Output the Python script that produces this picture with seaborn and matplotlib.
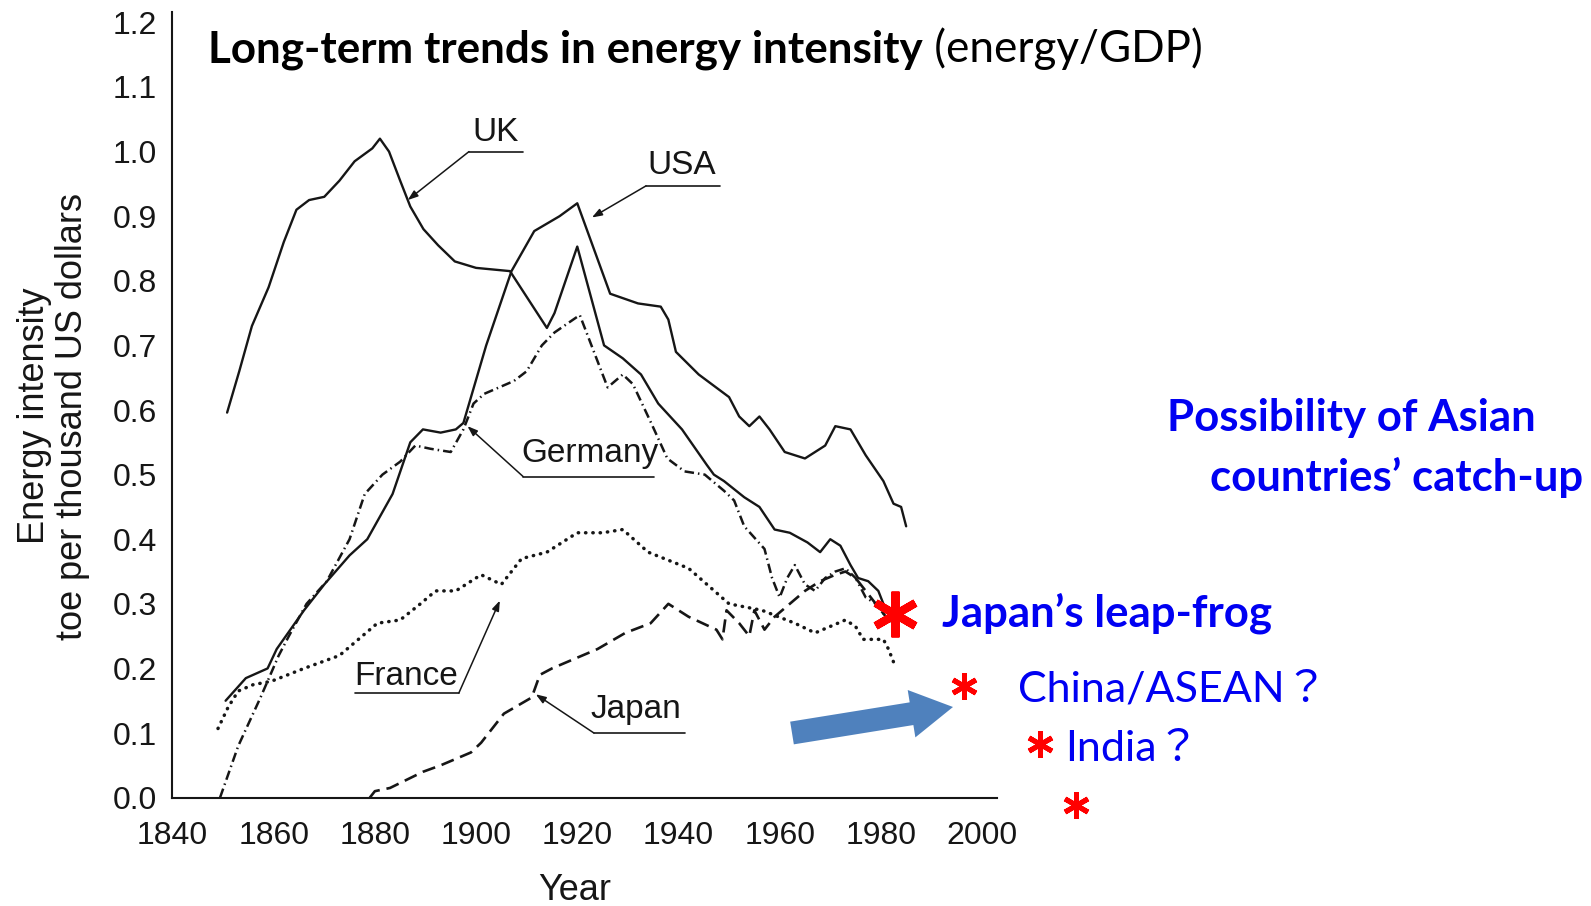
import matplotlib
matplotlib.use("Agg")
import matplotlib.pyplot as plt
import seaborn as sns
from matplotlib.patches import FancyArrow

# ---------------------------------------------------------------------------
# Data (toe per thousand US dollars)
# ---------------------------------------------------------------------------

uk_years = [1850.8, 1853.2, 1855.7, 1859, 1862, 1864.5, 1867, 1870, 1873, 1876,
            1879.5, 1881, 1882.8, 1885, 1887, 1889.6, 1892.5, 1895.8, 1900,
            1906.7, 1914, 1915.5, 1920, 1925.3, 1929, 1932.6, 1936, 1940.7,
            1945.6, 1947, 1949, 1953, 1956, 1959, 1962, 1965.5, 1968, 1970,
            1972, 1974, 1975.5, 1977.5, 1979.5, 1981, 1982]
uk_vals = [0.596, 0.66, 0.73, 0.79, 0.86, 0.91, 0.925, 0.93, 0.955, 0.985,
           1.005, 1.02, 1.0, 0.955, 0.915, 0.88, 0.855, 0.83, 0.82,
           0.815, 0.727, 0.75, 0.853, 0.70, 0.68, 0.655, 0.61, 0.57,
           0.515, 0.50, 0.49, 0.465, 0.45, 0.415, 0.41, 0.395, 0.38, 0.40,
           0.39, 0.36, 0.34, 0.335, 0.32, 0.29, 0.28]

usa_years = [1850.5, 1854.5, 1858.8, 1860.6, 1866, 1870, 1875, 1878.5, 1883.5,
             1887, 1889.5, 1893, 1896, 1897.5, 1902, 1907, 1911.5, 1916.5, 1920,
             1926.5, 1932, 1936.5, 1938, 1939.5, 1944, 1950, 1952, 1954, 1956,
             1958, 1961, 1965, 1969, 1971, 1974, 1977, 1980.5, 1982.5, 1984, 1985]
usa_vals = [0.15, 0.185, 0.2, 0.23, 0.29, 0.33, 0.375, 0.40, 0.47,
            0.55, 0.57, 0.565, 0.57, 0.58, 0.70, 0.815, 0.877, 0.90, 0.92,
            0.78, 0.765, 0.76, 0.74, 0.69, 0.655, 0.62, 0.59, 0.575, 0.59,
            0.57, 0.535, 0.525, 0.545, 0.575, 0.57, 0.53, 0.49, 0.455, 0.45, 0.42]

germany_years = [1849.4, 1853, 1857.4, 1861, 1863, 1866.5, 1870.5, 1875, 1878,
                 1881.5, 1885, 1888, 1891, 1895, 1897.5, 1899.5, 1901.6, 1907.5,
                 1910, 1913, 1915.5, 1920.5, 1926, 1929, 1931, 1934.6, 1937.8,
                 1941.2, 1945.2, 1949, 1951, 1953, 1957, 1958.5, 1960, 1961.5,
                 1963, 1965, 1967, 1969, 1971, 1973, 1975, 1977, 1979, 1981, 1982.5]
germany_vals = [0.0, 0.08, 0.155, 0.22, 0.25, 0.30, 0.335, 0.40, 0.47,
                0.50, 0.52, 0.545, 0.54, 0.535, 0.57, 0.61, 0.625, 0.645,
                0.66, 0.70, 0.72, 0.747, 0.635, 0.655, 0.64, 0.58, 0.525,
                0.505, 0.50, 0.475, 0.46, 0.42, 0.385, 0.34, 0.31, 0.34,
                0.36, 0.33, 0.32, 0.34, 0.35, 0.355, 0.34, 0.31, 0.30, 0.28, 0.27]

france_years = [1849, 1851, 1853, 1856, 1859.5, 1866, 1873, 1877.5, 1880.5, 1885,
                1889, 1892, 1896, 1901, 1905, 1909, 1914, 1920, 1925, 1929, 1934,
                1942, 1950, 1956.5, 1963, 1967, 1970, 1973, 1975, 1976.5, 1980.5,
                1981.5, 1982.5]
france_vals = [0.107, 0.14, 0.165, 0.175, 0.18, 0.20, 0.22, 0.25, 0.27, 0.275,
               0.30, 0.32, 0.32, 0.345, 0.33, 0.37, 0.38, 0.41, 0.41, 0.415, 0.38,
               0.355, 0.30, 0.29, 0.27, 0.255, 0.265, 0.275, 0.265, 0.245, 0.245,
               0.23, 0.21]

japan_years = [1879, 1880, 1883, 1889.5, 1893, 1896, 1899, 1901, 1905.5, 1911,
               1912.6, 1915, 1921, 1924, 1929.5, 1934.5, 1938, 1942, 1947.5,
               1948.7, 1949.5, 1952, 1954, 1955, 1957, 1959, 1962, 1965, 1968,
               1971, 1973, 1975, 1977, 1979, 1981]
japan_vals = [0.0, 0.01, 0.015, 0.04, 0.05, 0.06, 0.07, 0.085, 0.13, 0.155,
              0.19, 0.20, 0.22, 0.23, 0.255, 0.27, 0.30, 0.28, 0.26,
              0.245, 0.29, 0.27, 0.25, 0.29, 0.26, 0.28, 0.30, 0.32, 0.335,
              0.345, 0.35, 0.34, 0.32, 0.30, 0.28]

x_ticks = list(range(1840, 2001, 20))
y_ticks = [i / 10 for i in range(13)]

INK = "#161616"
BLUE = "#0000F2"
RED = "#FF0000"
ARROW_BLUE = "#4F81BD"
SCAN_FONT = "Liberation Sans"
SLIDE_FONT = ["Lato", "Noto Sans CJK JP"]

# ---------------------------------------------------------------------------
# Figure
# ---------------------------------------------------------------------------

sns.set_theme(style="white")
plt.rcParams["font.family"] = [SCAN_FONT, "DejaVu Sans"]

fig = plt.figure(figsize=(15.91, 9.06), dpi=100)
ax = fig.add_axes([0.1084, 0.1196, 0.5184, 0.8671])

series = [
    (uk_years, uk_vals, dict(lw=1.7, linestyle="-")),
    (usa_years, usa_vals, dict(lw=1.7, linestyle="-")),
    (germany_years, germany_vals, dict(lw=1.8, linestyle=(0, (3.8, 1.6, 0.6, 1.6)))),
    (france_years, france_vals, dict(lw=2.5, linestyle=(0, (0.1, 2.0)),
                                     dash_capstyle="round")),
    (japan_years, japan_vals, dict(lw=1.9, linestyle=(0, (5, 2.6)))),
]
for yrs, vals, kw in series:
    sns.lineplot(x=yrs, y=vals, ax=ax, color=INK, estimator=None,
                 sort=False, **kw)

ax.set_xlim(1840, 2003)
ax.set_ylim(0, 1.216)
ax.set_xticks(x_ticks)
ax.set_yticks(y_ticks)
ax.set_yticklabels([f"{v:.1f}" for v in y_ticks])
ax.tick_params(axis="both", direction="in", length=7, width=1.3,
               labelsize=23, colors=INK)
ax.tick_params(axis="y", pad=11)
ax.tick_params(axis="x", pad=17)
sns.despine(ax=ax)
for side in ("left", "bottom"):
    ax.spines[side].set_linewidth(1.5)
    ax.spines[side].set_color(INK)
ax.grid(False)

ax.set_ylabel("Energy intensity\ntoe per thousand US dollars",
              fontsize=26, color=INK, linespacing=1.12)
ax.yaxis.label.set(ha="center", va="center")
ax.yaxis.set_label_coords(-0.1440, 0.4857)
ax.set_xlabel("Year", fontsize=26, color=INK)
ax.xaxis.label.set(va="center")
ax.xaxis.set_label_coords(0.488, -0.118)


def label_series(name, text_xy, line_x, line_y, tip, start_right=False):
    """Country name with an underline and a leader line to its curve."""
    ax.text(*text_xy, name, fontsize=24, color=INK, ha="center",
            va="center")
    ax.plot(line_x, [line_y, line_y], color=INK, lw=1.2)
    start = (line_x[1] if start_right else line_x[0], line_y)
    ax.annotate("", xy=tip, xytext=start,
                arrowprops=dict(arrowstyle="-|>,head_length=0.5,head_width=0.18",
                                color=INK, lw=1.1, shrinkA=0, shrinkB=0))


label_series("UK", (1903.9, 1.030), (1898.6, 1909.3), 1.000, (1886.5, 0.925))
label_series("USA", (1940.7, 0.979), (1933.6, 1948.2), 0.947, (1922.9, 0.898))
label_series("Germany", (1922.5, 0.532), (1909.3, 1935.2), 0.497, (1898.3, 0.575))
label_series("France", (1886.1, 0.187), (1876.1, 1896.6), 0.162, (1904.7, 0.305),
             start_right=True)
label_series("Japan", (1931.6, 0.136), (1923.3, 1941.3), 0.100, (1911.8, 0.160))

# ---------------------------------------------------------------------------
# Slide overlay (pixel coordinates, y pointing down)
# ---------------------------------------------------------------------------

ov = fig.add_axes([0, 0, 1, 1], zorder=5)
ov.set_xlim(0, 1591)
ov.set_ylim(906, 0)
ov.axis("off")
ov.patch.set_visible(False)

t1 = ov.text(208, 63, "Long-term trends in energy intensity", fontsize=31.7,
             fontweight="bold", color="black", family=SLIDE_FONT, va="baseline")
ov.annotate(" (energy/GDP)", xy=(1, 0), xycoords=t1, fontsize=31.7,
            color="black", family=SLIDE_FONT, va="bottom", ha="left")

ov.text(1167, 431, "Possibility of Asian", fontsize=31.5, fontweight="bold",
        color=BLUE, family=SLIDE_FONT, va="baseline")
ov.text(1210, 491, "countries\u2019 catch-up", fontsize=31.5, fontweight="bold",
        color=BLUE, family=SLIDE_FONT, va="baseline")
ov.text(942, 627, "Japan\u2019s leap-frog", fontsize=31.5, fontweight="bold",
        color=BLUE, family=SLIDE_FONT, va="baseline")
ov.text(1018, 702, "China/ASEAN\uff1f", fontsize=31, color=BLUE,
        family=SLIDE_FONT, va="baseline")
ov.text(1065, 761, "India\uff1f", fontsize=31, color=BLUE,
        family=SLIDE_FONT, va="baseline")

# red asterisks
ov.plot([895], [614], marker=(6, 2, 0), ms=33, mew=5.8, color=RED,
        linestyle="none")
for px, py in [(964, 686), (1040, 744), (1076, 805)]:
    ov.plot([px], [py], marker=(6, 2, 0), ms=19, mew=3.6, color=RED,
            linestyle="none")

ov.add_patch(FancyArrow(792, 733, 161, -26, width=23, head_width=48,
                        head_length=42, length_includes_head=True,
                        color=ARROW_BLUE, lw=0))

fig.savefig("out.png", dpi=100)
